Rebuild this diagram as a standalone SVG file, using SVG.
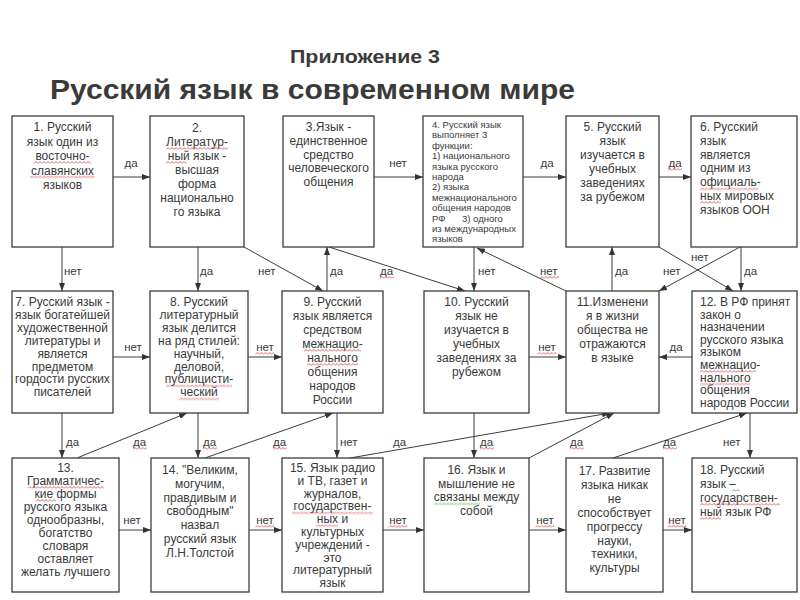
<svg xmlns="http://www.w3.org/2000/svg" width="800" height="600" viewBox="0 0 800 600">
<style>
.bg{fill:#fff}
.box{fill:#fff;stroke:#3c3c3c;stroke-width:1.3}
text{font-family:"Liberation Sans",Arial,sans-serif;fill:#3a3a3a}
.t{font-size:12px;text-anchor:middle}
.tl{font-size:12px}
.t4{font-size:9.5px}
.lab{font-size:11.5px}
.c{fill:none;stroke:#3c3c3c;stroke-width:1;marker-end:url(#ah)}
.sq{fill:url(#zr)}
.sg{fill:url(#zg)}
</style>
<defs>
<marker id="ah" markerUnits="userSpaceOnUse" markerWidth="8" markerHeight="6" refX="8" refY="3" orient="auto"><path d="M0,0 L8,3 L0,6 z" fill="#333"/></marker>
<pattern id="zr" width="4" height="3" patternUnits="userSpaceOnUse"><path d="M0,2.5 L2,0.5 L4,2.5" fill="none" stroke="#d43a3a" stroke-width="0.8"/></pattern>
<pattern id="zg" width="4" height="3" patternUnits="userSpaceOnUse"><path d="M0,2.5 L2,0.5 L4,2.5" fill="none" stroke="#3a9a3a" stroke-width="0.8"/></pattern>
</defs>
<rect class="bg" width="800" height="600"/>
<g id="title">
<text x="365" y="63" font-size="18" font-weight="bold" text-anchor="middle" textLength="150" lengthAdjust="spacingAndGlyphs" fill="#404040">Приложение 3</text>
<text x="50" y="99" font-size="27" font-weight="bold" textLength="525" lengthAdjust="spacingAndGlyphs" fill="#404040">Русский язык в современном мире</text>
</g>
<g id="connectors">
<path class="c" d="M113,177 H150"/>
<path class="c" d="M374,177 H423"/>
<path class="c" d="M523,177 H566"/>
<path class="c" d="M659,177 H691"/>
<path class="c" d="M62,247 V291"/>
<path class="c" d="M198,247 V291"/>
<path class="c" d="M244,247 L323,291"/>
<path class="c" d="M327,291 V247"/>
<path class="c" d="M329,247 L465,291"/>
<path class="c" d="M474,247 V291"/>
<path class="c" d="M566,291 L477,248"/>
<path class="c" d="M612,291 V247"/>
<path class="c" d="M659,247 L733,291"/>
<path class="c" d="M740,247 L659,291"/>
<path class="c" d="M741,247 V291"/>
<path class="c" d="M113,357 H150"/>
<path class="c" d="M248,357 H282"/>
<path class="c" d="M529,357 H566"/>
<path class="c" d="M692,357 H659"/>
<path class="c" d="M62,413 V458"/>
<path class="c" d="M77,458 L187,413"/>
<path class="c" d="M198,413 V458"/>
<path class="c" d="M205,458 L333,413"/>
<path class="c" d="M337,413 V458"/>
<path class="c" d="M350,458 L610,413"/>
<path class="c" d="M474,413 V458"/>
<path class="c" d="M529,458 L614,413"/>
<path class="c" d="M613,458 L747,413"/>
<path class="c" d="M750,413 V458"/>
<path class="c" d="M119,530 H151"/>
<path class="c" d="M249,530 H282"/>
<path class="c" d="M383,530 H424"/>
<path class="c" d="M529,530 H566"/>
<path class="c" d="M663,530 H692"/>
<g class="lab">
<text x="131" y="167" text-anchor="middle">да</text>
<text x="398" y="167" text-anchor="middle">нет</text>
<text x="547" y="167" text-anchor="middle">да</text>
<text x="675" y="167" text-anchor="middle">да</text>
<rect class="sq" transform="translate(668,168)" width="14" height="3"/>
<text x="64" y="275">нет</text>
<text x="200" y="275">да</text>
<text x="258" y="275">нет</text>
<text x="330" y="275">да</text>
<text x="380" y="275">да</text>
<rect class="sq" transform="translate(380,276)" width="14" height="3"/>
<text x="478" y="275">нет</text>
<text x="540" y="275">нет</text>
<rect class="sq" transform="translate(540,276)" width="19" height="3"/>
<text x="615" y="275">да</text>
<text x="691" y="261">нет</text>
<text x="663" y="275">нет</text>
<text x="744" y="275">да</text>
<text x="133" y="351" text-anchor="middle">нет</text>
<text x="265" y="351" text-anchor="middle">нет</text>
<rect class="sq" transform="translate(255.5,352)" width="19" height="3"/>
<text x="547" y="351" text-anchor="middle">нет</text>
<rect class="sq" transform="translate(537.5,352)" width="19" height="3"/>
<text x="676" y="351" text-anchor="middle">да</text>
<text x="66" y="446">да</text>
<text x="133" y="446">да</text>
<rect class="sq" transform="translate(133,447)" width="14" height="3"/>
<text x="203" y="446">да</text>
<rect class="sq" transform="translate(203,447)" width="14" height="3"/>
<text x="273" y="446">да</text>
<rect class="sq" transform="translate(273,447)" width="14" height="3"/>
<text x="340" y="446">нет</text>
<text x="393" y="446">да</text>
<text x="480" y="446">да</text>
<rect class="sq" transform="translate(480,447)" width="14" height="3"/>
<text x="570" y="446">да</text>
<rect class="sq" transform="translate(570,447)" width="14" height="3"/>
<text x="663" y="446">да</text>
<rect class="sq" transform="translate(663,447)" width="14" height="3"/>
<text x="723" y="446">нет</text>
<text x="132" y="524" text-anchor="middle">нет</text>
<text x="265" y="524" text-anchor="middle">нет</text>
<rect class="sq" transform="translate(255.5,525)" width="19" height="3"/>
<text x="398" y="524" text-anchor="middle">нет</text>
<rect class="sq" transform="translate(388.5,525)" width="19" height="3"/>
<text x="545" y="524" text-anchor="middle">нет</text>
<rect class="sq" transform="translate(535.5,525)" width="19" height="3"/>
<text x="677" y="524" text-anchor="middle">нет</text>
<rect class="sq" transform="translate(667.5,525)" width="19" height="3"/>
</g>
</g>
<g id="n1"><rect class="box" x="12" y="116" width="101" height="131"/>
<text class="t"><tspan x="62.5" y="131">1. Русский</tspan><tspan x="62.5" dy="14.5">язык один из</tspan><tspan x="62.5" dy="14.5">восточно-</tspan><tspan x="62.5" dy="14.5">славянских</tspan><tspan x="62.5" dy="14.5">языков</tspan></text>
<rect class="sq" transform="translate(34,161)" width="57" height="3"/><rect class="sq" transform="translate(30,175.5)" width="65" height="3"/></g>
<g id="n2"><rect class="box" x="150" y="116" width="94" height="131"/>
<text class="t"><tspan x="197" y="132">2.</tspan><tspan x="197" dy="14">Литератур-</tspan><tspan x="197" dy="14">ный язык -</tspan><tspan x="197" dy="14">высшая</tspan><tspan x="197" dy="14">форма</tspan><tspan x="197" dy="14">национально</tspan><tspan x="197" dy="14">го языка</tspan></text>
<rect class="sq" transform="translate(166,147)" width="62" height="3"/><rect class="sq" transform="translate(166,161)" width="21" height="3"/></g>
<g id="n3"><rect class="box" x="283" y="116" width="91" height="131"/>
<text class="t"><tspan x="328.5" y="131">3.Язык -</tspan><tspan x="328.5" dy="13.8">единственное</tspan><tspan x="328.5" dy="13.8">средство</tspan><tspan x="328.5" dy="13.8">человеческого</tspan><tspan x="328.5" dy="13.8">общения</tspan></text></g>
<g id="n4"><rect class="box" x="423" y="116" width="100" height="131"/>
<text class="t4"><tspan x="432" y="128">4. Русский язык</tspan><tspan x="432" dy="10.4">выполняет 3</tspan><tspan x="432" dy="10.4">функции:</tspan><tspan x="432" dy="10.4">1) национального</tspan><tspan x="432" dy="10.4">языка русского</tspan><tspan x="432" dy="10.4">народа</tspan><tspan x="432" dy="10.4">2) языка</tspan><tspan x="432" dy="10.4">межнационального</tspan><tspan x="432" dy="10.4">общения народов</tspan><tspan x="432" dy="10.4">РФ</tspan><tspan x="462">3) одного</tspan><tspan x="432" dy="10.4">из международных</tspan><tspan x="432" dy="10.4">языков</tspan></text></g>
<g id="n5"><rect class="box" x="566" y="116" width="93" height="131"/>
<text class="t"><tspan x="612.5" y="131">5. Русский</tspan><tspan x="612.5" dy="14">язык</tspan><tspan x="612.5" dy="14">изучается в</tspan><tspan x="612.5" dy="14">учебных</tspan><tspan x="612.5" dy="14">заведениях</tspan><tspan x="612.5" dy="14">за рубежом</tspan></text></g>
<g id="n6"><rect class="box" x="691" y="116" width="106" height="131"/>
<text class="tl"><tspan x="700" y="131">6. Русский</tspan><tspan x="700" dy="13.8">язык</tspan><tspan x="700" dy="13.8">является</tspan><tspan x="700" dy="13.8">одним из</tspan><tspan x="700" dy="13.8">официаль-</tspan><tspan x="700" dy="13.8">ных мировых</tspan><tspan x="700" dy="13.8">языков ООН</tspan></text>
<rect class="sq" transform="translate(700,187.5)" width="58" height="3"/><rect class="sq" transform="translate(700,201)" width="21" height="3"/></g>
<g id="n7"><rect class="box" x="12" y="291" width="101" height="122"/>
<text class="t"><tspan x="62.5" y="306">7. Русский язык -</tspan><tspan x="62.5" dy="12.9">язык богатейшей</tspan><tspan x="62.5" dy="12.9">художественной</tspan><tspan x="62.5" dy="12.9">литературы и</tspan><tspan x="62.5" dy="12.9">является</tspan><tspan x="62.5" dy="12.9">предметом</tspan><tspan x="62.5" dy="12.9">гордости русских</tspan><tspan x="62.5" dy="12.9">писателей</tspan></text></g>
<g id="n8"><rect class="box" x="150" y="291" width="98" height="122"/>
<text class="t"><tspan x="199" y="306">8. Русский</tspan><tspan x="199" dy="12.9">литературный</tspan><tspan x="199" dy="12.9">язык делится</tspan><tspan x="199" dy="12.9">на ряд стилей:</tspan><tspan x="199" dy="12.9">научный,</tspan><tspan x="199" dy="12.9">деловой,</tspan><tspan x="199" dy="12.9">публицисти-</tspan><tspan x="199" dy="12.9">ческий</tspan></text>
<rect class="sq" transform="translate(166,384.5)" width="66" height="3"/><rect class="sq" transform="translate(179,397.5)" width="40" height="3"/></g>
<g id="n9"><rect class="box" x="282" y="291" width="101" height="122"/>
<text class="t"><tspan x="332.5" y="306">9. Русский</tspan><tspan x="332.5" dy="14">язык является</tspan><tspan x="332.5" dy="14">средством</tspan><tspan x="332.5" dy="14">межнацио-</tspan><tspan x="332.5" dy="14">нального</tspan><tspan x="332.5" dy="14">общения</tspan><tspan x="332.5" dy="14">народов</tspan><tspan x="332.5" dy="14">России</tspan></text>
<rect class="sq" transform="translate(304,349)" width="57" height="3"/><rect class="sq" transform="translate(307,363)" width="51" height="3"/></g>
<g id="n10"><rect class="box" x="424" y="291" width="105" height="122"/>
<text class="t"><tspan x="476.5" y="306">10. Русский</tspan><tspan x="476.5" dy="14">язык не</tspan><tspan x="476.5" dy="14">изучается в</tspan><tspan x="476.5" dy="14">учебных</tspan><tspan x="476.5" dy="14">заведениях за</tspan><tspan x="476.5" dy="14">рубежом</tspan></text></g>
<g id="n11"><rect class="box" x="566" y="291" width="93" height="122"/>
<text class="t"><tspan x="612.5" y="306">11.Изменени</tspan><tspan x="612.5" dy="14">я в жизни</tspan><tspan x="612.5" dy="14">общества не</tspan><tspan x="612.5" dy="14">отражаются</tspan><tspan x="612.5" dy="14">в языке</tspan></text></g>
<g id="n12"><rect class="box" x="692" y="291" width="105" height="122"/>
<text class="tl" font-size="11.5"><tspan x="700" y="306">12. В РФ принят</tspan><tspan x="700" dy="12.6">закон о</tspan><tspan x="700" dy="12.6">назначении</tspan><tspan x="700" dy="12.6">русского языка</tspan><tspan x="700" dy="12.6">языком</tspan><tspan x="700" dy="12.6">межнацио-</tspan><tspan x="700" dy="12.6">нального</tspan><tspan x="700" dy="12.6">общения</tspan><tspan x="700" dy="12.6">народов России</tspan></text>
<rect class="sq" transform="translate(700,370)" width="56" height="3"/><rect class="sq" transform="translate(700,382.6)" width="50" height="3"/></g>
<g id="n13"><rect class="box" x="12" y="458" width="107" height="134"/>
<text class="t"><tspan x="65.5" y="472">13.</tspan><tspan x="65.5" dy="13">Грамматичес-</tspan><tspan x="65.5" dy="13">кие формы</tspan><tspan x="65.5" dy="13">русского языка</tspan><tspan x="65.5" dy="13">однообразны,</tspan><tspan x="65.5" dy="13">богатство</tspan><tspan x="65.5" dy="13">словаря</tspan><tspan x="65.5" dy="13">оставляет</tspan><tspan x="65.5" dy="13">желать лучшего</tspan></text>
<rect class="sq" transform="translate(28,486)" width="76" height="3"/><rect class="sq" transform="translate(36,499)" width="20" height="3"/></g>
<g id="n14"><rect class="box" x="151" y="458" width="98" height="134"/>
<text class="t"><tspan x="200" y="474">14. "Великим,</tspan><tspan x="200" dy="13.8">могучим,</tspan><tspan x="200" dy="13.8">правдивым и</tspan><tspan x="200" dy="13.8">свободным"</tspan><tspan x="200" dy="13.8">назвал</tspan><tspan x="200" dy="13.8">русский язык</tspan><tspan x="200" dy="13.8">Л.Н.Толстой</tspan></text></g>
<g id="n15"><rect class="box" x="282" y="458" width="101" height="134"/>
<text class="t"><tspan x="332.5" y="472">15. Язык радио</tspan><tspan x="332.5" dy="12.8">и ТВ, газет и</tspan><tspan x="332.5" dy="12.8">журналов,</tspan><tspan x="332.5" dy="12.8">государствен-</tspan><tspan x="332.5" dy="12.8">ных и</tspan><tspan x="332.5" dy="12.8">культурных</tspan><tspan x="332.5" dy="12.8">учреждений -</tspan><tspan x="332.5" dy="12.8">это</tspan><tspan x="332.5" dy="12.8">литературный</tspan><tspan x="332.5" dy="12.8">язык</tspan></text>
<rect class="sq" transform="translate(292,511.5)" width="81" height="3"/><rect class="sq" transform="translate(316,524.3)" width="22" height="3"/></g>
<g id="n16"><rect class="box" x="424" y="458" width="105" height="134"/>
<text class="t"><tspan x="476.5" y="474">16. Язык и</tspan><tspan x="476.5" dy="13.7">мышление  не</tspan><tspan x="476.5" dy="13.7">связаны между</tspan><tspan x="476.5" dy="13.7">собой</tspan></text>
<rect class="sg" transform="translate(434,502.5)" width="46" height="3"/></g>
<g id="n17"><rect class="box" x="566" y="458" width="97" height="134"/>
<text class="t"><tspan x="614.5" y="475">17. Развитие</tspan><tspan x="614.5" dy="13.9">языка никак</tspan><tspan x="614.5" dy="13.9">не</tspan><tspan x="614.5" dy="13.9">способствует</tspan><tspan x="614.5" dy="13.9">прогрессу</tspan><tspan x="614.5" dy="13.9">науки,</tspan><tspan x="614.5" dy="13.9">техники,</tspan><tspan x="614.5" dy="13.9">культуры</tspan></text></g>
<g id="n18"><rect class="box" x="692" y="458" width="105" height="134"/>
<text class="tl"><tspan x="700" y="474">18. Русский</tspan><tspan x="700" dy="14">язык –</tspan><tspan x="700" dy="14">государствен-</tspan><tspan x="700" dy="14">ный язык РФ</tspan></text>
<rect class="sg" transform="translate(732,489)" width="8" height="3"/><rect class="sq" transform="translate(700,503)" width="80" height="3"/><rect class="sq" transform="translate(700,517)" width="21" height="3"/></g>
</svg>
